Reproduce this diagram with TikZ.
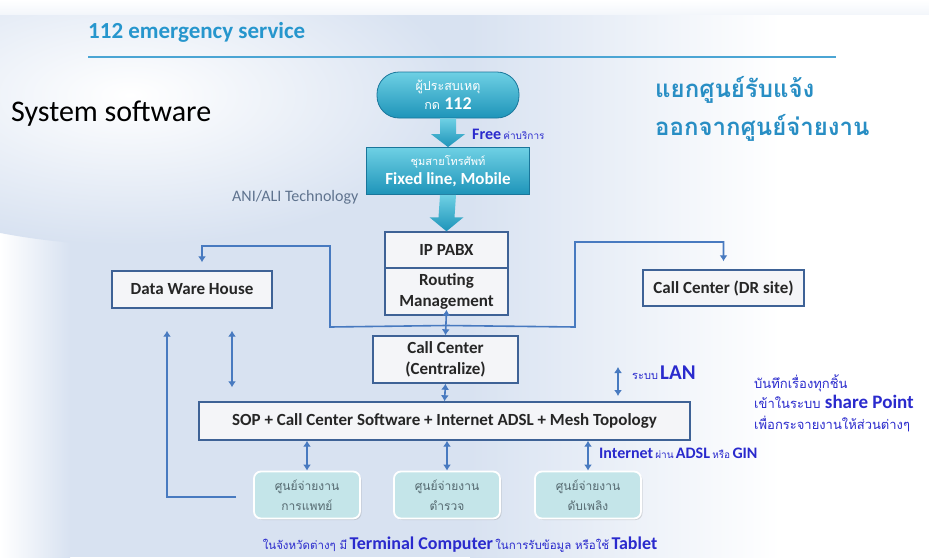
\documentclass[tikz,border=0pt]{standalone}
\usepackage{fontspec}
\setmainfont{Carlito}
\newfontfamily\thai[Script=Thai]{Loma}
\usetikzlibrary{calc,arrows.meta,shadows}

\definecolor{bgblue}{RGB}{216,226,241}
\definecolor{titleblue}{RGB}{38,150,205}
\definecolor{rulecol}{RGB}{75,165,212}
\definecolor{linkblue}{RGB}{72,122,192}
\definecolor{boxline}{RGB}{62,98,150}
\definecolor{boxfill}{RGB}{244,245,248}
\definecolor{tealtop}{RGB}{110,208,228}
\definecolor{tealbot}{RGB}{30,148,185}
\definecolor{tealline}{RGB}{25,118,155}
\definecolor{noteblue}{RGB}{42,42,205}
\definecolor{mint}{RGB}{196,229,233}
\definecolor{mintext}{RGB}{85,105,112}
\definecolor{anigray}{RGB}{95,115,142}
\definecolor{headblue}{RGB}{40,142,196}

\tikzset{
  box/.style={draw=boxline, line width=1.4pt, fill=boxfill, text=black!85,
    font=\bfseries\fontsize{17}{21}\selectfont, align=center, inner sep=0pt},
  tealbox/.style={draw=tealline, line width=0.8pt, top color=tealtop,
    bottom color=tealbot, text=white, align=center, inner sep=0pt},
  dispatch/.style={rounded corners=7pt, fill=mint, draw=white, line width=1.8pt,
    drop shadow={opacity=0.25, shadow xshift=1.5pt, shadow yshift=-1.5pt},
    minimum width=106pt, minimum height=47pt, inner sep=0pt,
    font=\thai\fontsize{12}{20}\selectfont, text=mintext, align=center},
  link/.style={draw=linkblue, line width=1.6pt},
  >={Latex[length=6pt,width=8pt]},
  fatarrow/.style={top color=tealtop, bottom color=tealbot},
  note/.style={text=noteblue, inner sep=0pt}
}

\begin{document}
\begin{tikzpicture}[x=1pt,y=-1pt]
\useasboundingbox (0,0) rectangle (929,557);

% background wash
\fill[bgblue] (0,0) rectangle (929,557);
\shade[left color=bgblue, right color=white] (470,0) rectangle (780,557);
\fill[white] (779,0) rectangle (929,557);
\shade[left color=white, right color=bgblue] (0,140) rectangle (70,557);
\shade[inner color=white, outer color=bgblue] (130,95) ellipse (330 and 150);
\shade[top color=white, bottom color=bgblue!30!white] (0,0) rectangle (929,14);

% heading
\node[anchor=west, text=titleblue, font=\bfseries\fontsize{23}{23}\selectfont, inner sep=0pt]
  (title) at (88,32) {112 emergency service};
\draw[rulecol, line width=2.6pt] (88,57) -- (836,57);

\node[anchor=west, font=\fontsize{30}{30}\selectfont, inner sep=0pt] (sys) at (11,114) {System software};
\node[anchor=west, text=anigray, font=\fontsize{16}{16}\selectfont, inner sep=0pt] (ani) at (232,197) {ANI/ALI Technology};

\node[anchor=west, text=headblue, font=\thai\bfseries\fontsize{24}{38}\selectfont, align=left, inner sep=0pt]
  (split) at (655,109) {แยกศูนย์รับแจ้ง\\ออกจากศูนย์จ่ายงาน};

% incoming call chain
\node[tealbox, rounded corners=22pt, minimum width=142pt, minimum height=46pt,
  font=\thai\fontsize{12.5}{19}\selectfont] (caller) at (448,95)
  {ผู้ประสบเหตุ\\กด {\normalfont\bfseries\fontsize{18}{18}\selectfont 112}};
\node[tealbox, minimum width=163pt, minimum height=47pt,
  font=\thai\fontsize{11}{19}\selectfont] (trunk) at (448,171)
  {ชุมสายโทรศัพท์\\{\normalfont\bfseries\fontsize{17}{17}\selectfont Fixed line, Mobile}};

\node[box, minimum width=123pt, minimum height=36pt] (pabx) at (446.5,250) {IP PABX};
\node[box, minimum width=123pt, minimum height=47pt] (routing) at (446.5,291.5) {Routing\\Management};

\shade[fatarrow] ($(caller.south)+(-8,0)$) -- ($(trunk.north)+(-8,-13)$) -- ($(trunk.north)+(-17,-13)$)
  -- (trunk.north) -- ($(trunk.north)+(17,-13)$) -- ($(trunk.north)+(8,-13)$)
  -- ($(caller.south)+(8,0)$) -- cycle;
\shade[fatarrow] ($(trunk.south)+(-8,0)$) -- ($(pabx.north)+(-8,-14)$) -- ($(pabx.north)+(-17,-14)$)
  -- (pabx.north) -- ($(pabx.north)+(17,-14)$) -- ($(pabx.north)+(8,-14)$)
  -- ($(trunk.south)+(8,0)$) -- cycle;

\node[anchor=west, note] (free) at (472,134)
  {{\bfseries\fontsize{16}{16}\selectfont Free} {\thai\fontsize{10}{10}\selectfont ค่าบริการ}};

% main boxes
\node[box, minimum width=160pt, minimum height=37pt] (dwh) at (192,289.5) {Data Ware House};
\node[box, minimum width=161pt, minimum height=36pt] (dr) at (723.5,288) {Call Center (DR site)};
\node[box, minimum width=145pt, minimum height=47pt] (central) at (445.5,359.5) {Call Center\\(Centralize)};
\node[box, minimum width=491pt, minimum height=38pt] (sop) at (444.5,421)
  {SOP + Call Center Software + Internet ADSL + Mesh Topology};

\node[dispatch] (d1) at (307,495) {ศูนย์จ่ายงาน\\การแพทย์};
\node[dispatch] (d2) at (447,495) {ศูนย์จ่ายงาน\\ตำรวจ};
\node[dispatch] (d3) at (588,495) {ศูนย์จ่ายงาน\\ดับเพลิง};

% connectors
\coordinate (hub) at ($(routing.south)!0.5!(central.north)$);
\draw[link,->,shorten >=8pt] (hub) -- (330,327) -- (330,246) -| ([xshift=10pt]dwh.north);
\draw[link,->,shorten >=8pt] (hub) -- (575,327) -- (575,242) -| (dr.north);
\draw[link,<->] ([yshift=6pt]routing.south) -- (central.north);
\draw[link,<->] (central.south) -- (sop.north);

\coordinate (dwhA) at ($(dwh.south)+(-25,22)$);
\coordinate (dwhB) at ($(dwh.south)+(40,22)$);
\coordinate (sopB) at ($(sop.north)+(-212.5,-14)$);
\draw[link,->] ($(d1.west)+(-17,2)$) -| (dwhA);
\draw[link,<->] (dwhB) -- (sopB);

\draw[link,<->] (d1.north |- sop.south) -- (d1.north);
\draw[link,<->] (d2.north |- sop.south) -- (d2.north);
\draw[link,<->] (d3.north |- sop.south) -- (d3.north);

\coordinate (lanA) at (618,367);
\coordinate (lanB) at (618,396);
\draw[link,<->] (lanA) -- (lanB);

% notes
\node[anchor=west, note] (lan) at (632,373)
  {{\thai\fontsize{11}{11}\selectfont ระบบ} {\bfseries\fontsize{21}{21}\selectfont LAN}};
\node[anchor=west, note] (inet) at (599,453)
  {{\bfseries\fontsize{16}{16}\selectfont Internet} {\thai\fontsize{10}{10}\selectfont ผ่าน} {\bfseries\fontsize{16}{16}\selectfont ADSL} {\thai\fontsize{10}{10}\selectfont หรือ} {\bfseries\fontsize{16}{16}\selectfont GIN}};
\node[anchor=west, note, align=left, font=\thai\fontsize{13}{20.5}\selectfont] (share) at (754,403)
  {บันทึกเรื่องทุกชิ้น\\เข้าในระบบ {\normalfont\bfseries\fontsize{19}{19}\selectfont share Point}\\เพื่อกระจายงานให้ส่วนต่างๆ};
\node[note] (terminal) at (460,545)
  {{\thai\fontsize{11.5}{11.5}\selectfont ในจังหวัดต่างๆ มี} {\bfseries\fontsize{18}{18}\selectfont Terminal Computer} {\thai\fontsize{11.5}{11.5}\selectfont ในการรับข้อมูล หรือใช้} {\bfseries\fontsize{18}{18}\selectfont Tablet}};

\end{tikzpicture}
\end{document}
